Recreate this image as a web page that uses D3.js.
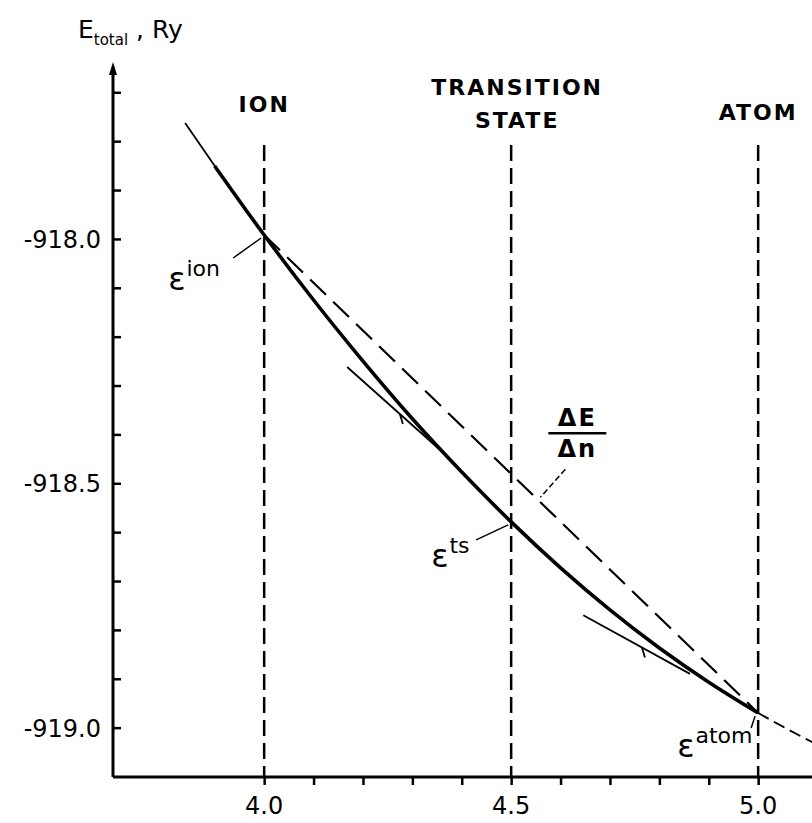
<!DOCTYPE html>
<html lang="en">
<head>
<meta charset="UTF-8">
<title>Total energy vs occupation</title>
<script src="https://cdn.jsdelivr.net/npm/d3@7/dist/d3.min.js"></script>
<style>
  body { margin: 0; background: #fff; }
  svg { display: block; }
</style>
</head>
<body>
<svg width="812" height="823"></svg>
<script>
    // values
    const curveN = [3.84, 3.9, 4.0, 4.1, 4.2, 4.3, 4.4, 4.5, 4.6, 4.7, 4.8, 4.9, 5.0];
    const curveE = [-917.763, -917.851, -917.992, -918.125, -918.250, -918.368, -918.477,
                    -918.579, -918.673, -918.759, -918.837, -918.907, -918.970];
    const tailN = [5.0, 5.05, 5.11];
    const tailE = [-918.970, -918.998, -919.030];

    const stateN = [4.0, 4.5, 5.0];
    const stateE = [-917.992, -918.579, -918.970];
    const stateTitle = [["ION"], ["TRANSITION", "STATE"], ["ATOM"]];
    const stateSup = ["ion", "ts", "atom"];

    const tangentA_N = [4.168, 4.362];
    const tangentA_E = [-918.262, -918.437];
    const tangentB_N = [4.646, 4.862];
    const tangentB_E = [-918.770, -918.890];

    const yTicks = [-917.7, -917.8, -917.9, -918.0, -918.1, -918.2, -918.3, -918.4,
                    -918.5, -918.6, -918.7, -918.8, -918.9, -919.0];
    const yLabels = [-918.0, -918.5, -919.0];
    const xTicks = [4.0, 4.1, 4.2, 4.3, 4.4, 4.5, 4.6, 4.7, 4.8, 4.9, 5.0];
    const xLabels = [4.0, 4.5, 5.0];

    const x = d3.scaleLinear().domain([3.694, 5.109]).range([113, 812]);
    const y = d3.scaleLinear().domain([-917.638, -919.101]).range([62, 777]);

    const svg = d3.select("svg");
    const tickFont = "'DejaVu Sans', sans-serif";

    // axes
    const yAxis = svg.append("g").attr("transform", `translate(${x.range()[0]},0)`)
        .call(d3.axisRight(y).tickValues(yTicks).tickSize(8).tickFormat(""));
    yAxis.select(".domain").remove();
    yAxis.selectAll("line").attr("stroke", "#000").attr("stroke-width", 2.5);

    const xAxis = svg.append("g").attr("transform", `translate(0,${y.range()[1]})`)
        .call(d3.axisBottom(x).tickValues(xTicks).tickSize(8).tickFormat(""));
    xAxis.select(".domain").remove();
    xAxis.selectAll("line").attr("stroke", "#000").attr("stroke-width", 2.5);

    svg.append("path")
        .attr("d", `M${x.range()[0]},${y.range()[1]}V${y.range()[0] + 8}M${x.range()[0]},${y.range()[1]}H${x.range()[1]}`)
        .attr("fill", "none").attr("stroke", "#000").attr("stroke-width", 3);
    // arrow on y axis
    svg.append("path")
        .attr("d", `M${x.range()[0]},${y.range()[0]}l-4,13h8z`)
        .attr("fill", "#000");

    svg.append("g").selectAll("text").data(yLabels).join("text")
        .attr("x", x.range()[0] - 12).attr("y", d => y(d) + 9)
        .attr("text-anchor", "end")
        .attr("font-family", tickFont).attr("font-size", 24)
        .text(d => d.toFixed(1));

    svg.append("g").selectAll("text").data(xLabels).join("text")
        .attr("x", d => x(d)).attr("y", 814)
        .attr("text-anchor", "middle")
        .attr("font-family", tickFont).attr("font-size", 24)
        .text(d => d.toFixed(1));

    // y axis title
    const title = svg.append("text").attr("x", 78).attr("y", 38)
        .attr("font-family", tickFont).attr("font-size", 25);
    title.append("tspan").text("E");
    title.append("tspan").attr("font-size", 15).attr("dy", 7).text("total");
    title.append("tspan").attr("dy", -7).text(" , Ry");

    // vertical dashed lines for the three states
    svg.append("g").selectAll("line").data(stateN).join("line")
        .attr("x1", d => x(d)).attr("x2", d => x(d))
        .attr("y1", 145).attr("y2", y.range()[1])
        .attr("stroke", "#000").attr("stroke-width", 2.5)
        .attr("stroke-dasharray", "16,7");

    // state titles
    const titles = svg.append("g")
        .attr("font-family", tickFont).attr("font-weight", "bold")
        .attr("font-size", 22).attr("letter-spacing", 2)
        .attr("text-anchor", "middle");
    const titleBase = [112, 95, 120];
    stateN.forEach((n, i) => {
        stateTitle[i].forEach((t, j) => {
            titles.append("text")
                .attr("x", x(n) + (i === 1 ? 6 : 0))
                .attr("y", titleBase[i] + j * 33)
                .text(t);
        });
    });

    // chord dE/dn
    svg.append("line")
        .attr("x1", x(stateN[0])).attr("y1", y(stateE[0]))
        .attr("x2", x(stateN[2])).attr("y2", y(stateE[2]))
        .attr("stroke", "#000").attr("stroke-width", 2.2)
        .attr("stroke-dasharray", "22,10");

    const line = d3.line().x(d => x(d[0])).y(d => y(d[1])).curve(d3.curveMonotoneX);
    const pts = curveN.map((n, i) => [n, curveE[i]]);

    // thin start and thick body of the curve
    svg.append("path").attr("d", line(pts.slice(0, 3)))
        .attr("fill", "none").attr("stroke", "#000").attr("stroke-width", 1.8);
    svg.append("path").attr("d", line(pts.slice(1)))
        .attr("fill", "none").attr("stroke", "#000").attr("stroke-width", 3.6);
    svg.append("path").attr("d", line(tailN.map((n, i) => [n, tailE[i]])))
        .attr("fill", "none").attr("stroke", "#000").attr("stroke-width", 1.8)
        .attr("stroke-dasharray", "12,6");

    // thin tangent segments with a small barb
    [[tangentA_N, tangentA_E], [tangentB_N, tangentB_E]].forEach(([ns, es]) => {
        const p0 = [x(ns[0]), y(es[0])], p1 = [x(ns[1]), y(es[1])];
        svg.append("line")
            .attr("x1", p0[0]).attr("y1", p0[1]).attr("x2", p1[0]).attr("y2", p1[1])
            .attr("stroke", "#000").attr("stroke-width", 1.8);
        const t = 0.55;
        const bx = p0[0] + (p1[0] - p0[0]) * t, by = p0[1] + (p1[1] - p0[1]) * t;
        svg.append("line")
            .attr("x1", bx).attr("y1", by).attr("x2", bx + 3).attr("y2", by + 10)
            .attr("stroke", "#000").attr("stroke-width", 1.8);
    });

    // epsilon labels with leaders
    const epsOff = [[-96, 55], [-80, 45], [-81, 44]];
    const leadFrom = [[-31, 23], [-35, 18], [-7, 15]];
    stateN.forEach((n, i) => {
        const px = x(n), py = y(stateE[i]);
        const g = svg.append("text")
            .attr("x", px + epsOff[i][0]).attr("y", py + epsOff[i][1])
            .attr("font-family", tickFont);
        g.append("tspan").attr("font-size", 32).text("ε");
        g.append("tspan").attr("font-size", 22).attr("dy", -14).attr("dx", 1).text(stateSup[i]);
        svg.append("line")
            .attr("x1", px + leadFrom[i][0]).attr("y1", py + leadFrom[i][1])
            .attr("x2", px - 3).attr("y2", py + 3)
            .attr("stroke", "#000").attr("stroke-width", 1.5);
    });

    // dE/dn label
    const nLab = 4.553;
    const chordY = y(stateE[0] + (stateE[2] - stateE[0]) * (nLab - stateN[0]) / (stateN[2] - stateN[0]));
    const lx = x(nLab) + 40, ly = chordY - 66;
    const frac = svg.append("g").attr("font-family", tickFont).attr("font-weight", "bold")
        .attr("font-size", 24).attr("text-anchor", "middle").attr("letter-spacing", 2);
    frac.append("text").attr("x", lx).attr("y", ly - 7).text("ΔE");
    frac.append("line").attr("x1", lx - 29).attr("x2", lx + 29).attr("y1", ly).attr("y2", ly)
        .attr("stroke", "#000").attr("stroke-width", 2.5);
    frac.append("text").attr("x", lx).attr("y", ly + 24).text("Δn");
    svg.append("line")
        .attr("x1", x(nLab) + 28).attr("y1", chordY - 30)
        .attr("x2", x(nLab) + 3).attr("y2", chordY - 2)
        .attr("stroke", "#000").attr("stroke-width", 1.5)
        .attr("stroke-dasharray", "6,3");
</script>
</body>
</html>
